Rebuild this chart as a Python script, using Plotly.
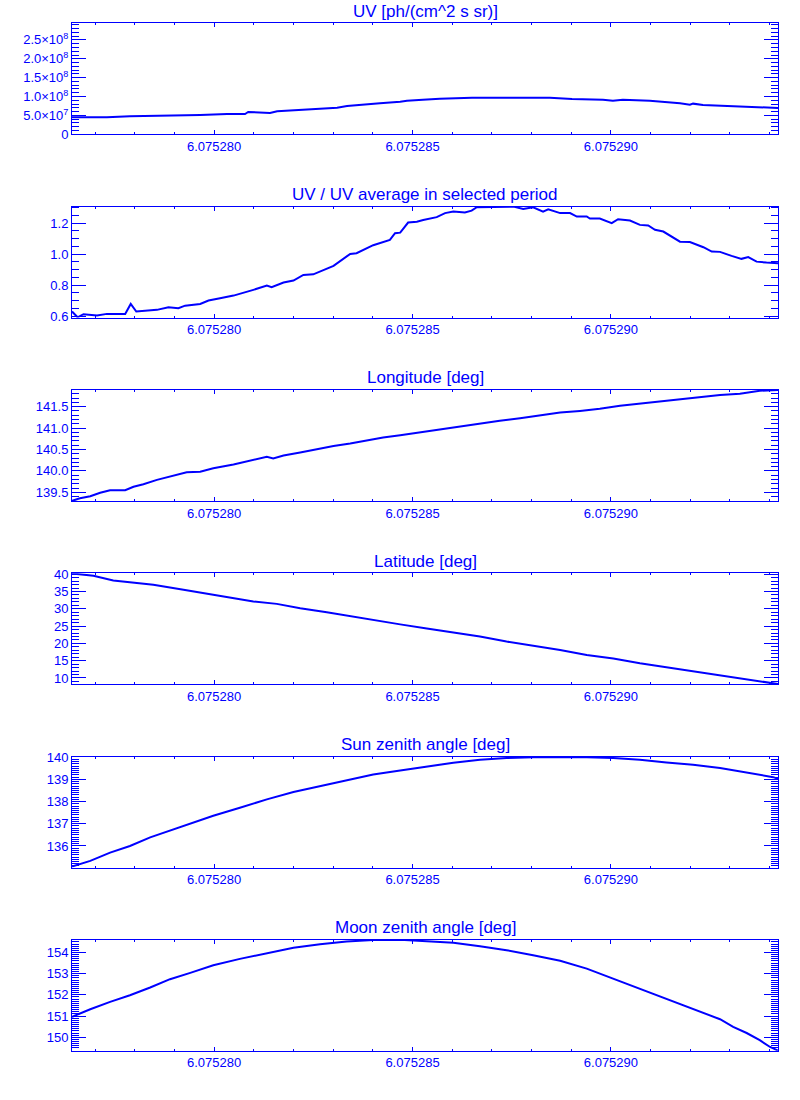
import plotly.graph_objects as go

BLUE = "#0000ff"
FONT = "Liberation Sans"

# ---------------- data (time axis values, series values) ----------------
titles = [
    "UV [ph/(cm^2 s sr)]",
    "UV / UV average in selected period",
    "Longitude [deg]",
    "Latitude [deg]",
    "Sun zenith angle [deg]",
    "Moon zenith angle [deg]",
]

t_uv = [6.07527642, 6.07527730, 6.07527788, 6.07527872, 6.07527965, 6.07528033,
        6.07528078, 6.07528086, 6.07528141, 6.07528159, 6.07528217, 6.07528267,
        6.07528310, 6.07528335, 6.07528375, 6.07528418, 6.07528469, 6.07528486,
        6.07528526, 6.07528569, 6.07528650, 6.07528821, 6.07528846, 6.07528902,
        6.07528980, 6.07529005, 6.07529030, 6.07529098, 6.07529131, 6.07529174,
        6.07529199, 6.07529207, 6.07529232, 6.07529295, 6.07529363, 6.07529421]
uv = [4.50e7, 4.50e7, 4.75e7, 4.85e7, 5.11e7, 5.38e7, 5.38e7, 5.91e7, 5.64e7, 6.09e7,
      6.44e7, 6.70e7, 7.06e7, 7.50e7, 7.76e7, 8.21e7, 8.65e7, 8.91e7, 9.18e7, 9.44e7,
      9.71e7, 9.71e7, 9.71e7, 9.35e7, 9.18e7, 8.91e7, 9.18e7, 8.91e7, 8.65e7, 8.21e7,
      7.85e7, 8.12e7, 7.76e7, 7.50e7, 7.32e7, 6.97e7]

t_ratio = [6.07527642, 6.07527656, 6.07527671, 6.07527705, 6.07527730, 6.07527776,
           6.07527790, 6.07527804, 6.07527856, 6.07527885, 6.07527910, 6.07527927,
           6.07527965, 6.07527986, 6.07528015, 6.07528049, 6.07528099, 6.07528133,
           6.07528145, 6.07528175, 6.07528200, 6.07528225, 6.07528250, 6.07528284,
           6.07528301, 6.07528343, 6.07528359, 6.07528401, 6.07528443, 6.07528456,
           6.07528469,
           6.07528489, 6.07528511, 6.07528527, 6.07528561, 6.07528582, 6.07528603,
           6.07528632, 6.07528649, 6.07528662, 6.07528678, 6.07528720, 6.07528754,
           6.07528779, 6.07528804, 6.07528829, 6.07528842, 6.07528872, 6.07528897,
           6.07528914, 6.07528939, 6.07528947, 6.07528972, 6.07529002, 6.07529018,
           6.07529048, 6.07529073, 6.07529094, 6.07529111, 6.07529132, 6.07529149,
           6.07529174, 6.07529199, 6.07529233, 6.07529254, 6.07529275, 6.07529304,
           6.07529329, 6.07529346, 6.07529367, 6.07529392, 6.07529421]
ratio = [0.630, 0.593, 0.613, 0.604, 0.615, 0.615, 0.679, 0.630, 0.641, 0.658,
         0.652, 0.668, 0.679, 0.701, 0.716, 0.733, 0.770, 0.797, 0.787, 0.817,
         0.830, 0.866, 0.870, 0.905, 0.925, 1.002, 1.006, 1.058, 1.092, 1.135,
         1.139,
         1.204, 1.210, 1.221, 1.239, 1.265, 1.275, 1.269, 1.281, 1.303, 1.303,
         1.303, 1.307, 1.292, 1.303, 1.275, 1.290, 1.265, 1.265, 1.243, 1.243,
         1.230, 1.230, 1.200, 1.226, 1.217, 1.189, 1.185, 1.157, 1.146, 1.118,
         1.081, 1.079, 1.045, 1.017, 1.015, 0.989, 0.970, 0.981, 0.952, 0.946,
         0.942]

t_lon = [6.07527642, 6.07527662, 6.07527688, 6.07527713, 6.07527738, 6.07527776,
         6.07527797, 6.07527822, 6.07527856, 6.07527897, 6.07527931, 6.07527965,
         6.07527998, 6.07528049, 6.07528099, 6.07528133, 6.07528149, 6.07528175,
         6.07528217, 6.07528259, 6.07528301, 6.07528343, 6.07528385, 6.07528426,
         6.07528469, 6.07528519, 6.07528569, 6.07528620, 6.07528670, 6.07528720,
         6.07528771, 6.07528821, 6.07528872, 6.07528922, 6.07528972, 6.07529023,
         6.07529073, 6.07529123, 6.07529174, 6.07529224, 6.07529275, 6.07529325,
         6.07529375, 6.07529421]
lon = [139.30, 139.36, 139.41, 139.49, 139.55, 139.55, 139.63, 139.69, 139.79, 139.88,
       139.97, 139.98, 140.06, 140.15, 140.25, 140.33, 140.29, 140.36, 140.43, 140.51,
       140.58, 140.64, 140.71, 140.78, 140.83, 140.90, 140.96, 141.03, 141.11, 141.17,
       141.23, 141.29, 141.36, 141.40, 141.45, 141.52, 141.57, 141.62, 141.67, 141.73,
       141.77, 141.80, 141.87, 141.89]

t_lat = [6.07527642, 6.07527696, 6.07527746, 6.07527797, 6.07527847, 6.07527923,
         6.07527982, 6.07528032, 6.07528099, 6.07528158, 6.07528217, 6.07528284,
         6.07528334, 6.07528401, 6.07528469, 6.07528536, 6.07528603, 6.07528670,
         6.07528737, 6.07528804, 6.07528872, 6.07528939, 6.07529006, 6.07529073,
         6.07529140, 6.07529207, 6.07529275, 6.07529342, 6.07529401, 6.07529421]
lat = [40.25, 39.54, 38.19, 37.61, 36.93, 35.49, 34.33, 33.36, 32.11, 31.43,
       30.18, 29.02, 28.05, 26.60, 25.50, 24.29, 23.23, 21.97, 20.52, 19.36,
       18.11, 16.66, 15.60, 14.25, 13.09, 11.93, 10.87, 9.71, 8.65, 8.25]

t_sun = [6.07527642, 6.07527688, 6.07527738, 6.07527788, 6.07527839, 6.07527889,
         6.07527940, 6.07527998, 6.07528065, 6.07528133, 6.07528200, 6.07528267,
         6.07528334, 6.07528401, 6.07528469, 6.07528536, 6.07528603, 6.07528670,
         6.07528737, 6.07528804, 6.07528872, 6.07528939, 6.07529006, 6.07529073,
         6.07529140, 6.07529207, 6.07529275, 6.07529342, 6.07529375, 6.07529409,
         6.07529421]
sun = [135.07, 135.33, 135.70, 136.00, 136.39, 136.69, 137.01, 137.36, 137.72, 138.10,
       138.43, 138.69, 138.93, 139.22, 139.40, 139.58, 139.75, 139.88, 139.96, 140.00,
       140.00, 140.00, 139.96, 139.88, 139.76, 139.66, 139.51, 139.30, 139.21, 139.10,
       139.03]

t_moon = [6.07527642, 6.07527688, 6.07527738, 6.07527788, 6.07527839, 6.07527889,
          6.07527940, 6.07527998, 6.07528065, 6.07528133, 6.07528200, 6.07528267,
          6.07528334, 6.07528401, 6.07528469, 6.07528536, 6.07528603, 6.07528670,
          6.07528737, 6.07528804, 6.07528872, 6.07528939, 6.07529006, 6.07529073,
          6.07529140, 6.07529207, 6.07529275, 6.07529308, 6.07529342, 6.07529375,
          6.07529401, 6.07529421]
moon = [150.96, 151.32, 151.67, 151.98, 152.35, 152.74, 153.04, 153.40, 153.70, 153.98,
        154.22, 154.39, 154.52, 154.59, 154.60, 154.53, 154.46, 154.30, 154.11, 153.87,
        153.61, 153.24, 152.77, 152.30, 151.83, 151.35, 150.85, 150.49, 150.20, 149.86,
        149.54, 149.37]

uv_tickvals = [0, 5e7, 1e8, 1.5e8, 2e8, 2.5e8]
uv_ticktext = ["0", "5.0×10<sup>7</sup>", "1.0×10<sup>8</sup>", "1.5×10<sup>8</sup>",
               "2.0×10<sup>8</sup>", "2.5×10<sup>8</sup>"]
x_ticks = [6.075280, 6.075285, 6.075290]
x_ticktext = ["6.075280", "6.075285", "6.075290"]

# ---------------- layout constants ----------------
W, H = 800, 1100
X_RANGE = [6.07527642, 6.07529421]
PANEL_TOP0 = 23.3
PANEL_STEP = 183.3
PANEL_H = 111.0

series = [(t_uv, uv), (t_ratio, ratio), (t_lon, lon), (t_lat, lat), (t_sun, sun), (t_moon, moon)]
yranges = [[0, 2.94e8], [0.591, 1.307], [139.30, 141.89], [8.2, 40.3],
           [135.03, 140.03], [149.36, 154.60]]
ydticks = [None, 0.2, 0.5, 5, 1, 1]
yminor = [1e7, 0.05, 0.1, 1, 0.1, 0.1]
yfmt = [None, ".1f", ".1f", "d", "d", "d"]

fig = go.Figure()
annotations = []
tickfont = dict(family=FONT, size=13, color=BLUE)

for i, (t, v) in enumerate(series):
    n = "" if i == 0 else str(i + 1)
    fig.add_trace(go.Scatter(x=t, y=v, mode="lines", line=dict(color=BLUE, width=2),
                             xaxis="x" + n, yaxis="y" + n, showlegend=False,
                             hoverinfo="skip"))
    top = PANEL_TOP0 + PANEL_STEP * i
    bot = top + PANEL_H
    dom = [(H - bot) / H, (H - top) / H]

    xa = dict(domain=[0, 1], range=X_RANGE, anchor="y" + n, automargin=False,
              tickmode="array", tickvals=x_ticks, ticktext=x_ticktext,
              ticks="inside", ticklen=4, tickwidth=1, tickcolor=BLUE,
              showline=True, linecolor=BLUE, linewidth=1, mirror="ticks",
              showgrid=False, zeroline=False, tickfont=tickfont,
              minor=dict(tickmode="linear", tick0=6.075280, dtick=1e-6,
                         ticks="inside", ticklen=2, tickcolor=BLUE, showgrid=False))
    ya = dict(domain=dom, range=yranges[i], anchor="x" + n, automargin=False,
              ticks="inside", ticklen=14, tickwidth=1, tickcolor=BLUE,
              showline=True, linecolor=BLUE, linewidth=1, mirror="ticks",
              showgrid=False, zeroline=False, tickfont=tickfont,
              minor=dict(tickmode="linear", tick0=0, dtick=yminor[i],
                         ticks="inside", ticklen=7, tickcolor=BLUE, showgrid=False))
    if i == 0:
        ya.update(tickmode="array", tickvals=uv_tickvals, ticktext=uv_ticktext)
    else:
        ya.update(tickmode="linear", tick0=0, dtick=ydticks[i], tickformat=yfmt[i])
    fig.layout["xaxis" + n] = xa
    fig.layout["yaxis" + n] = ya

    annotations.append(dict(text=titles[i], x=0.5, xref="paper", y=dom[1], yref="paper",
                            xanchor="center", yanchor="middle", yshift=12, showarrow=False,
                            font=dict(family=FONT, size=17, color=BLUE)))

fig.update_layout(width=W, height=H,
                  margin=dict(l=72, r=22, t=0, b=0, autoexpand=False),
                  paper_bgcolor="white", plot_bgcolor="white",
                  annotations=annotations, showlegend=False, hovermode=False)

fig.write_html("out.html", config={"displayModeBar": False},
               post_script="document.body.style.margin='0';")
